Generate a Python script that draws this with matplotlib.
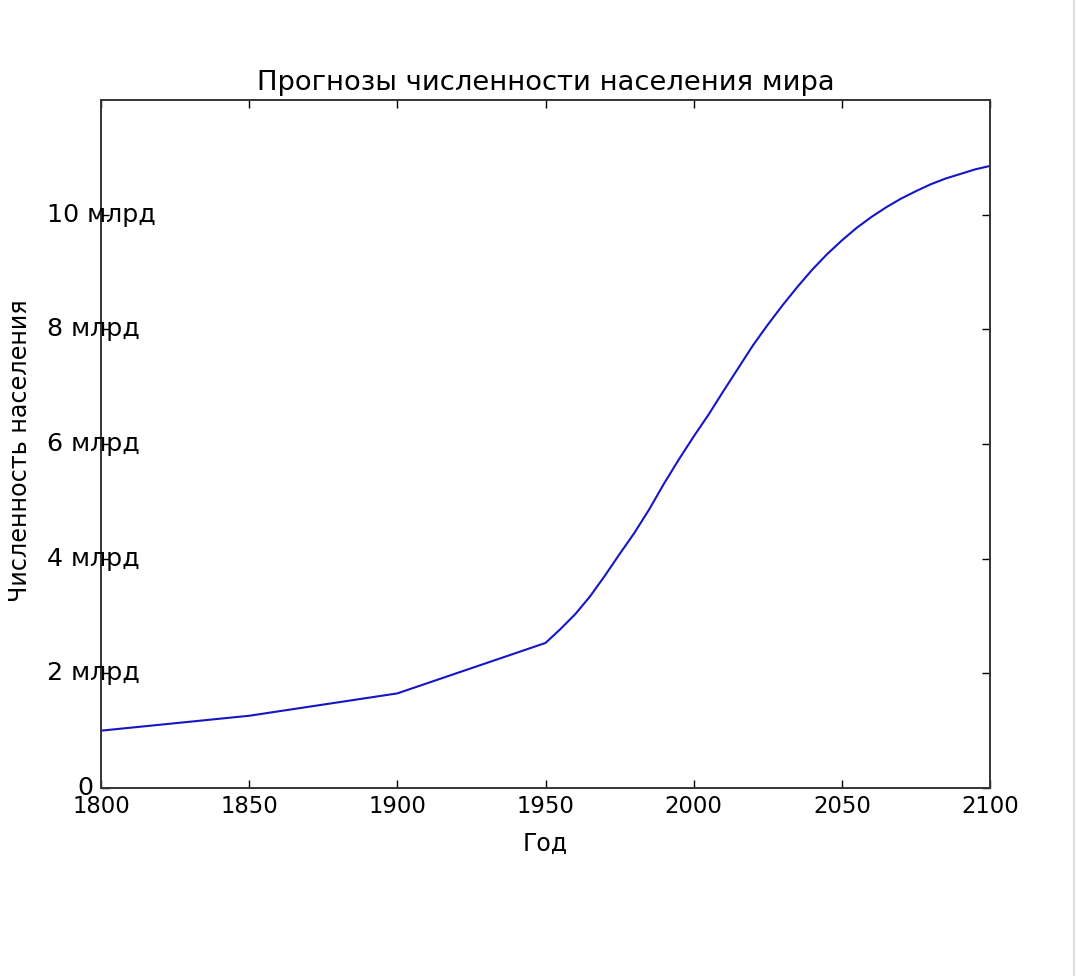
#!/usr/bin/env python3
"""World population projection chart (classic matplotlib look)."""

import matplotlib
matplotlib.use("Agg")
import matplotlib.pyplot as plt
from matplotlib.lines import Line2D

# data: billions of people
years = [1800, 1850, 1900, 1950, 1955, 1960, 1965, 1970, 1975, 1980, 1985,
         1990, 1995, 2000, 2005, 2010, 2015, 2020, 2025, 2030, 2035, 2040,
         2045, 2050, 2055, 2060, 2065, 2070, 2075, 2080, 2085, 2090, 2095,
         2100]
population = [1.0, 1.26, 1.65, 2.53, 2.77, 3.03, 3.34, 3.70, 4.08, 4.45,
              4.86, 5.31, 5.73, 6.13, 6.51, 6.92, 7.32, 7.72, 8.08, 8.42,
              8.74, 9.04, 9.31, 9.55, 9.77, 9.96, 10.13, 10.28, 10.41, 10.53,
              10.63, 10.71, 10.79, 10.85]

x_ticks = [1800, 1850, 1900, 1950, 2000, 2050, 2100]
y_ticks = [0, 2, 4, 6, 8, 10]
y_labels = ["0", "2 млрд", "4 млрд", "6 млрд", "8 млрд", "10 млрд"]

title = "Прогнозы численности населения мира"
xlabel = "Год"
ylabel = "Численность населения"


def main():
    plt.rcParams["font.family"] = ["DejaVu Sans"]

    fig = plt.figure(figsize=(10.76, 9.76), dpi=100)
    ax = fig.add_axes([101 / 1076, 1 - 788 / 976, 889 / 1076, 688 / 976])

    ax.plot(years, population, color="#1515c8", linewidth=1.5)

    ax.set_xlim(1800, 2100)
    ax.set_ylim(0, 12)
    ax.set_xticks(x_ticks)
    ax.set_xticklabels([str(y) for y in x_ticks], fontsize=16.4)
    ax.set_yticks(y_ticks)

    # classic style ticks: inside, on every side
    ax.tick_params(direction="in", length=5.5, width=1.0, top=True,
                   right=True, labelleft=False, pad=5)
    for side in ax.spines.values():
        side.set_linewidth(1.4)
        side.set_color("#333333")

    # y labels sit oddly in the original: left edges lined up, "0" hugging the axis
    ytrans = ax.get_yaxis_transform()
    for val, lab in zip(y_ticks, y_labels):
        if val == 0:
            ax.text(-0.009, val, lab, transform=ytrans, ha="right",
                    va="center", fontsize=18.2)
        else:
            ax.text(-0.0607, val, lab, transform=ytrans, ha="left",
                    va="center", fontsize=18.2)

    ax.set_title(title, fontsize=19.7, pad=7)
    ax.set_xlabel(xlabel, fontsize=17, labelpad=10)
    ax.set_ylabel(ylabel, fontsize=17.2)
    ax.yaxis.set_label_coords(-0.0776, 0.49)

    # faint frame edge at right of the screenshot
    fig.add_artist(Line2D([0.9985, 0.9985], [0, 1], transform=fig.transFigure,
                          color="#dddddd", linewidth=1.5))

    fig.savefig("out.png", dpi=100)


if __name__ == "__main__":
    main()
